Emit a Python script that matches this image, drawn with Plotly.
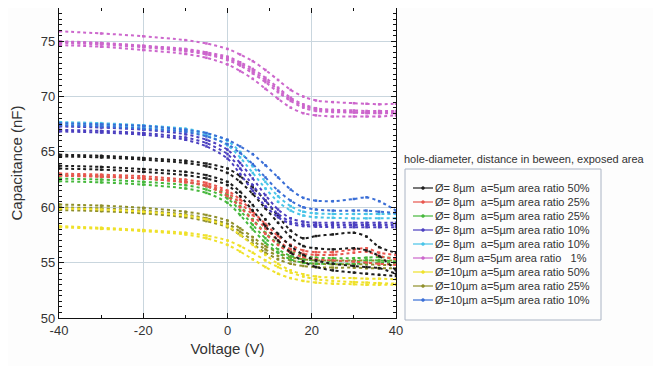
import plotly.graph_objects as go

voltage = [-40, -30, -20, -10, -5, 0, 3, 6, 9, 12, 15, 18, 21, 25, 30, 33, 36, 40]

series_names = [
    "Ø=\u00a08µm\u00a0\u00a0a=5µm area ratio 50%",
    "Ø=\u00a08µm\u00a0\u00a0a=5µm area ratio 25%",
    "Ø=\u00a08µm\u00a0\u00a0a=5µm area ratio 25%",
    "Ø=\u00a08µm\u00a0\u00a0a=5µm area ratio 10%",
    "Ø=\u00a08µm\u00a0\u00a0a=5µm area ratio 10%",
    "Ø=\u00a08µm a=5µm area ratio \u00a0\u00a01%",
    "Ø=10µm a=5µm area ratio 50%",
    "Ø=10µm a=5µm area ratio 25%",
    "Ø=10µm a=5µm area ratio 10%",
]
series_colors = ["#1e1e1e", "#e8564e", "#46b83c", "#4b3fc0", "#48c4e8",
                 "#cc66cc", "#efe12a", "#8f8f2a", "#3a6ed6"]
legend_title = "hole-diameter, distance in beween, exposed area"

# Capacitance (nF) curves, grouped by legend entry
black_8um_50 = [
    [64.75, 64.65, 64.45, 64.2, 63.95, 63.5, 62.8, 61.8, 60.6, 59.2, 57.9, 57.2, 57.4, 57.55, 57.7, 57.35, 56.4, 55.9],
    [64.6, 64.5, 64.3, 64.0, 63.7, 63.1, 62.3, 61.2, 59.9, 58.6, 57.3, 56.5, 56.3, 56.2, 56.3, 56.1, 55.6, 54.3],
    [63.75, 63.65, 63.45, 63.2, 62.9, 62.3, 61.4, 60.2, 58.9, 57.6, 56.5, 55.7, 55.2, 54.9, 54.7, 54.6, 54.5, 54.0],
    [63.5, 63.4, 63.2, 62.9, 62.6, 62.0, 61.0, 59.7, 58.3, 57.0, 55.9, 55.1, 54.6, 54.3, 54.1, 54.0, 53.9, 53.8],
]
red_8um_25 = [
    [63.05, 62.95, 62.8, 62.5, 62.2, 61.5, 60.7, 59.6, 58.5, 57.4, 56.6, 56.1, 55.95, 55.95, 56.2, 56.3, 55.9, 55.7],
    [62.85, 62.75, 62.6, 62.3, 62.0, 61.3, 60.4, 59.3, 58.1, 57.0, 56.2, 55.8, 55.7, 55.7, 55.9, 56.0, 55.6, 55.3],
    [62.9, 62.8, 62.6, 62.25, 61.9, 61.0, 60.0, 58.8, 57.6, 56.6, 55.9, 55.5, 55.3, 55.2, 55.1, 55.0, 54.9, 54.8],
]
green_8um_25 = [
    [62.9, 62.8, 62.6, 62.3, 61.9, 61.1, 60.1, 58.9, 57.7, 56.7, 56.0, 55.6, 55.45, 55.4, 55.4, 55.45, 55.5, 55.4],
    [62.6, 62.5, 62.3, 62.0, 61.6, 60.8, 59.7, 58.4, 57.2, 56.2, 55.6, 55.3, 55.2, 55.15, 55.15, 55.2, 55.2, 55.1],
    [62.35, 62.25, 62.05, 61.7, 61.3, 60.4, 59.3, 58.0, 56.8, 55.9, 55.3, 55.0, 54.9, 54.9, 54.9, 54.95, 55.0, 54.9],
]
indigo_8um_10 = [
    [67.3, 67.2, 67.0, 66.6, 66.1, 65.2, 64.0, 62.6, 61.1, 59.8, 59.0, 58.7, 58.6, 58.6, 58.6, 58.6, 58.6, 58.6],
    [67.0, 66.9, 66.7, 66.3, 65.8, 64.8, 63.5, 62.0, 60.6, 59.4, 58.7, 58.45, 58.4, 58.4, 58.4, 58.4, 58.4, 58.4],
    [66.85, 66.75, 66.55, 66.1, 65.5, 64.4, 63.0, 61.5, 60.1, 59.1, 58.5, 58.3, 58.25, 58.2, 58.2, 58.2, 58.2, 58.2],
]
cyan_8um_10 = [
    [67.7, 67.6, 67.4, 67.1, 66.7, 66.0, 65.0, 63.7, 62.3, 61.0, 60.1, 59.6, 59.45, 59.4, 59.4, 59.4, 59.4, 59.4],
    [67.5, 67.4, 67.2, 66.9, 66.5, 65.6, 64.5, 63.1, 61.7, 60.5, 59.7, 59.25, 59.1, 59.05, 59.0, 59.0, 59.0, 59.0],
]
magenta_8um_1 = [
    [75.9, 75.7, 75.45, 75.1, 74.8, 74.3, 73.8, 73.2, 72.4, 71.5, 70.6, 70.0, 69.65, 69.5, 69.4, 69.35, 69.3, 69.35],
    [75.0, 74.85, 74.6, 74.3, 74.0, 73.6, 73.1, 72.5, 71.7, 70.8, 69.9, 69.3, 68.95, 68.8, 68.75, 68.7, 68.7, 68.7],
    [74.95, 74.8, 74.55, 74.2, 73.9, 73.45, 72.95, 72.3, 71.5, 70.6, 69.75, 69.15, 68.85, 68.7, 68.6, 68.55, 68.55, 68.55],
    [74.85, 74.7, 74.45, 74.1, 73.8, 73.3, 72.8, 72.1, 71.3, 70.4, 69.6, 69.0, 68.7, 68.6, 68.55, 68.5, 68.5, 68.5],
    [74.65, 74.5, 74.2, 73.85, 73.5, 72.9, 72.3, 71.6, 70.7, 69.8, 69.0, 68.5, 68.3, 68.2, 68.2, 68.2, 68.2, 68.3],
]
yellow_10um_50 = [
    [58.3, 58.15, 57.95, 57.7, 57.45, 57.0, 56.5, 55.9, 55.2, 54.6, 54.1, 53.75, 53.5, 53.35, 53.25, 53.2, 53.15, 53.1],
    [58.2, 58.05, 57.85, 57.55, 57.2, 56.6, 56.0, 55.3, 54.6, 54.0, 53.6, 53.35, 53.2, 53.1, 53.05, 53.0, 53.0, 53.0],
    [59.9, 59.8, 59.6, 59.25, 58.9, 58.3, 57.5, 56.6, 55.7, 54.9, 54.3, 53.95, 53.75, 53.65, 53.6, 53.55, 53.55, 53.5],
]
olive_10um_25 = [
    [60.25, 60.15, 59.95, 59.6, 59.3, 58.8, 58.1, 57.3, 56.5, 55.9, 55.5, 55.3, 55.2, 55.2, 55.2, 55.2, 55.2, 55.2],
    [60.0, 59.9, 59.7, 59.35, 59.0, 58.5, 57.8, 57.0, 56.2, 55.6, 55.2, 55.0, 54.9, 54.85, 54.85, 54.85, 54.8, 54.8],
    [59.75, 59.65, 59.45, 59.1, 58.75, 58.2, 57.5, 56.7, 55.9, 55.3, 54.9, 54.7, 54.6, 54.55, 54.55, 54.5, 54.5, 54.5],
]
blue_10um_10 = [
    [67.6, 67.5, 67.35, 67.0, 66.7, 66.1, 65.5, 64.8, 63.8, 62.7, 61.6, 60.85, 60.6, 60.55, 60.75, 60.9, 60.55, 59.7],
    [67.4, 67.3, 67.1, 66.8, 66.4, 65.7, 64.9, 63.9, 62.7, 61.5, 60.6, 60.0, 59.8, 59.7, 59.7, 59.7, 59.6, 59.5],
]

groups = [black_8um_50, red_8um_25, green_8um_25, indigo_8um_10, cyan_8um_10,
          magenta_8um_1, yellow_10um_50, olive_10um_25, blue_10um_10]
draw_order = [5, 7, 6, 2, 1, 0, 4, 3, 8]

x_ticks = [-40, -20, 0, 20, 40]
x_tick_labels = ["-40", "-20", "0", "20", "40"]
y_ticks = [50, 55, 60, 65, 70, 75]
y_tick_labels = ["50", "55", "60", "65", "70", "75"]

# page has an 8px body margin; geometry below is in page pixels
OFF = 8
L, R, T, B = 59, 396, 8, 318
W, H = 661 - OFF, 366 - OFF


def px(xp):
    return (xp - L) / (R - L)


def py(yp):
    return (B - yp) / (B - T)


fig = go.Figure()
for gi in draw_order:
    for ci, curve in enumerate(groups[gi]):
        fig.add_trace(go.Scatter(
            x=voltage, y=curve, mode="lines+markers",
            line=dict(color=series_colors[gi], width=2.0, dash="dot", shape="spline", smoothing=0.8),
            marker=dict(color=series_colors[gi], size=2.5, symbol="square"),
            name=series_names[gi], showlegend=False,
        ))

axis_common = dict(showline=True, linecolor="#111", linewidth=1.2, mirror="allticks",
                   ticks="inside", tickcolor="#111", ticklen=5,
                   showgrid=True, gridcolor="#c9d6de", gridwidth=1, zeroline=False,
                   tickfont=dict(family="Arial", size=13, color="#333"))

fig.update_xaxes(range=[-40, 40], tickvals=x_ticks, ticktext=x_tick_labels,
                 title=dict(text="Voltage (V)", font=dict(family="Arial", size=15, color="#333"), standoff=6),
                 minor=dict(dtick=10, ticks="inside", ticklen=3, tickcolor="#111", showgrid=False),
                 **axis_common)
fig.update_yaxes(range=[50, 78], tickvals=y_ticks, ticktext=y_tick_labels,
                 title=dict(text="Capacitance (nF)", font=dict(family="Arial", size=15, color="#333"), standoff=14),
                 minor=dict(dtick=0.5, ticks="inside", ticklen=3, tickcolor="#111", showgrid=False),
                 **axis_common)

# legend box and title
fig.add_shape(type="rect", xref="paper", yref="paper",
              x0=px(405), x1=px(601), y0=py(320), y1=py(169),
              line=dict(color="#aab4c4", width=1), fillcolor="rgba(0,0,0,0)", layer="above")
fig.add_annotation(text=legend_title, xref="paper", yref="paper", x=px(402), y=py(159),
                   xanchor="left", yanchor="middle", showarrow=False,
                   font=dict(family="Arial", size=11, color="#333"))

# legend entries
for i, (name, col) in enumerate(zip(series_names, series_colors)):
    yy = 188 + 14 * i
    fig.add_shape(type="line", xref="paper", yref="paper",
                  x0=px(413), x1=px(433), y0=py(yy), y1=py(yy),
                  line=dict(color=col, width=1.2))
    fig.add_shape(type="circle", xref="paper", yref="paper",
                  x0=px(421.5), x1=px(424.5), y0=py(yy + 1.5), y1=py(yy - 1.5),
                  line=dict(color=col, width=0.5), fillcolor=col)
    fig.add_annotation(text=name, xref="paper", yref="paper", x=px(433), y=py(yy),
                       xanchor="left", yanchor="middle", showarrow=False,
                       font=dict(family="Arial", size=11, color="#333"))

fig.update_layout(
    width=W, height=H,
    margin=dict(l=L - OFF, r=W - (R - OFF), t=T - OFF, b=H - (B - OFF)),
    paper_bgcolor="#fdfdfd", plot_bgcolor="white",
    showlegend=False,
)

fig.write_html("out.html")
